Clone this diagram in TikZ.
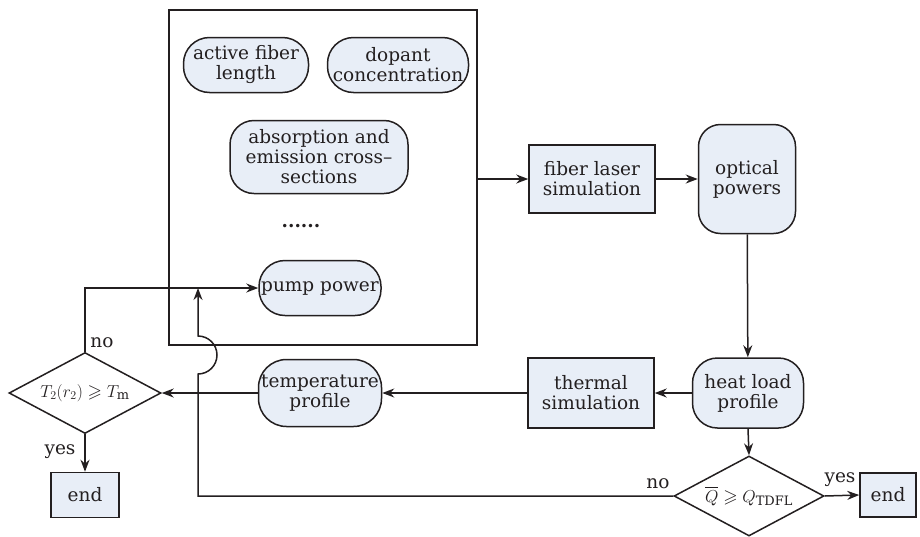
\documentclass[tikz,border=0pt]{standalone}
\usepackage{amssymb}
\usepackage{fontspec}
\setmainfont{DejaVu Serif}
\usetikzlibrary{arrows.meta,shapes.geometric}
\definecolor{fillb}{HTML}{E8EEF7}
\definecolor{ink}{HTML}{231F20}
\begin{document}
\begin{tikzpicture}[x=1pt,y=-1pt,
  every node/.style={font=\fontsize{18.5}{20}\selectfont, text=ink},
  base/.style={draw=ink, line width=1.5pt, fill=fillb, align=center, inner sep=0pt},
  pill/.style={base, rounded corners=26pt},
  sq/.style={base},
  dia/.style={draw=ink, line width=1.5pt, diamond, aspect=1.85, inner sep=0pt, fill=white},
  ln/.style={draw=ink, line width=1.5pt},
  arr/.style={ln, -{Stealth[length=12pt,width=9pt]}},
  lbl/.style={inner sep=0pt}
]
\useasboundingbox (0,0) rectangle (920,536);
\node[draw=ink, line width=1.5pt, minimum width=308pt, minimum height=335pt, inner sep=0pt] (big) at (323,177.5) {};
\node[pill, minimum width=125pt, minimum height=55pt] (afl) at (246,65) {active fiber\\length};
\node[pill, minimum width=141pt, minimum height=55pt] (dc) at (398,65) {dopant\\concentration};
\node[pill, rounded corners=24pt, minimum width=178pt, minimum height=73pt] (abs) at (319,157) {absorption and\\emission cross--\\sections};
\node[lbl] (dots) at (301,226) {\textbf{......}};
\node[pill, minimum width=122pt, minimum height=55pt] (pp) at (320,288) {pump power};
\node[sq, minimum width=126pt, minimum height=68pt] (fls) at (592,179) {fiber laser\\simulation};
\node[pill, rounded corners=22pt, minimum width=97pt, minimum height=109pt] (op) at (747,179) {optical\\powers};
\node[pill, rounded corners=25pt, minimum width=111pt, minimum height=70pt] (hl) at (748,393) {heat load\\profile};
\node[sq, minimum width=126pt, minimum height=70pt] (ts) at (591,393) {thermal\\simulation};
\node[pill, rounded corners=28pt, minimum width=123pt, minimum height=67pt] (tp) at (320,393) {temperature\\profile};
\node[dia, minimum width=152pt, minimum height=81pt] (d1) at (85,393) {$T_2(r_2)\geqslant T_{\mathrm{m}}$};
\node[sq, minimum width=68pt, minimum height=45pt] (e1) at (85,495) {end};
\node[dia, minimum width=150pt, minimum height=80pt] (d2) at (749,496) {$\overline{Q}\geqslant Q_{\mathrm{TDFL}}$};
\node[sq, minimum width=56pt, minimum height=44pt] (e2) at (888,495) {end};
\coordinate (lp) at (198,496);
\node[lbl] (no1) at (102,343) {no};
\node[lbl] (yes1) at (60,452) {yes};
\node[lbl] (no2) at (658,484) {no};
\node[lbl] (yes2) at (840,480) {yes};
\draw[arr] (big.east |- fls.west) -- (fls.west);
\draw[arr] (fls) -- (op);
\draw[arr] (op) -- (hl);
\draw[arr] (hl) -- (ts);
\draw[arr] (ts) -- (tp);
\draw[arr] (tp) -- (d1.east);
\draw[arr] (d1.north) |- (pp.west);
\draw[arr] (d1.south) -- (e1.north);
\draw[arr] (hl.south) -- (d2.north);
\draw[arr] (d2.east) -- (e2.west);
\draw[arr] (d2.west) -- (lp) -- ([yshift=19pt]lp |- tp.west) arc[start angle=90, end angle=-90, radius=19] -- (lp |- pp.west);
\end{tikzpicture}
\end{document}
